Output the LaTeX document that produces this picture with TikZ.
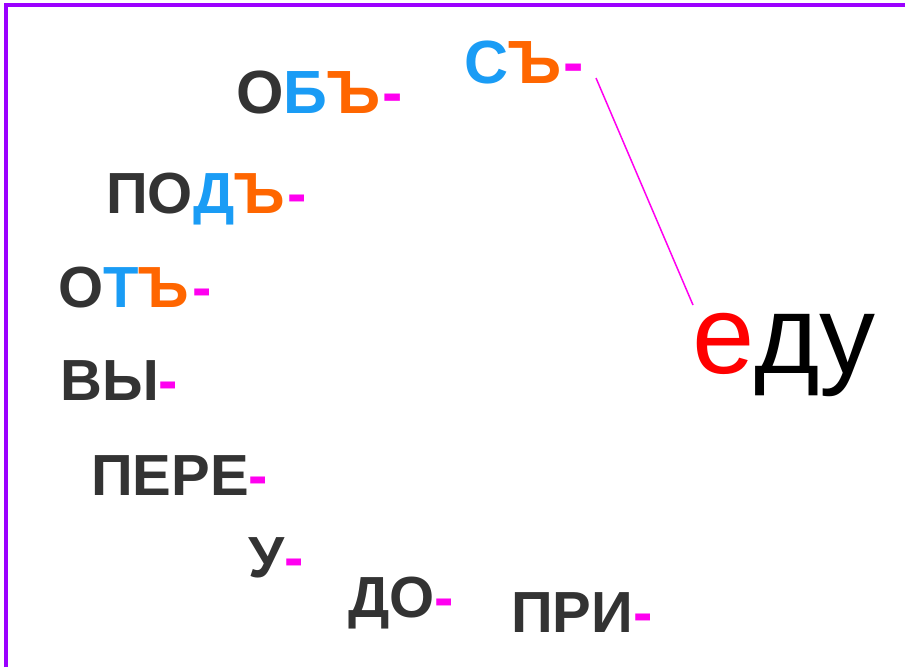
\documentclass[tikz,border=0pt]{standalone}
\usepackage{fontspec}
\setmainfont{Liberation Sans}
\usetikzlibrary{positioning, calc}
\definecolor{cFrame}  {HTML}{9B00FF}
\definecolor{cDark}   {HTML}{333333}
\definecolor{cBlue}   {HTML}{1A9CF5}
\definecolor{cOrange} {HTML}{FF6600}
\definecolor{cDash}   {HTML}{FF00F0}
\definecolor{cRoot}   {HTML}{FF0000}
\newcommand{\hy}{\textcolor{cDash}{-}}
\tikzset{
  prefword/.style={inner sep=0pt, anchor=base west, text=cDark,
                 font=\fontsize{58}{60}\selectfont\bfseries},
  bigword/.style={prefword, font=\fontsize{61}{63}\selectfont\bfseries},
}

\begin{document}
\begin{tikzpicture}[x=1pt, y=-1pt]
  \useasboundingbox[fill=white] (0,0) rectangle (905,667);
  \draw[cFrame, line width=4pt] (5.5,667) -- (5.5,5) -- (905,5);

  \node[bigword]  (obj)  at (236,113) {О\textcolor{cBlue}{Б}\textcolor{cOrange}{Ъ}\kern2pt\hy};
  \node[bigword]  (sj)   at (464,83)  {\textcolor{cBlue}{С}\textcolor{cOrange}{Ъ}\kern2pt\hy};
  \node[prefword] (podj) at (106,213) {ПО\textcolor{cBlue}{Д}\textcolor{cOrange}{Ъ}\kern3pt\hy};
  \node[prefword] (otj)  at (58,307)  {О\textcolor{cBlue}{Т}\textcolor{cOrange}{Ъ}\kern3pt\hy};
  \node[prefword] (vy)   at (60,400)  {ВЫ\hy};
  \node[prefword] (pere) at (91,495)  {ПЕРЕ\hy};
  \node[prefword] (u)    at (248,577) {У\hy};
  \node[prefword] (do)   at (348,617) {ДО\hy};
  \node[prefword] (pri)  at (511,632) {ПРИ\hy};

  \node[inner sep=0pt, anchor=base west, font=\fontsize{112}{114}\selectfont]
       (edu) at (692,373) {\textcolor{cRoot}{е}ду};

  \coordinate (linkA) at (596,78);
  \coordinate (linkB) at (693,305);
  \draw[cDash, line width=1.5pt] (linkA) -- (linkB);
\end{tikzpicture}
\end{document}
